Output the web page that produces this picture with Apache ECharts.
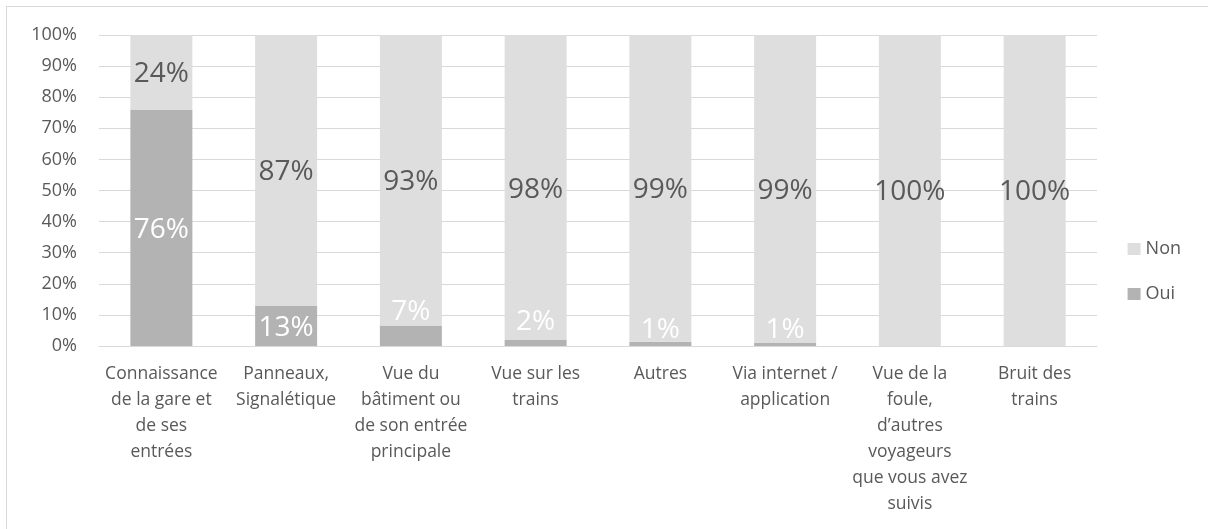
<!DOCTYPE html>
<html>
<head>
<meta charset="utf-8">
<script src="https://cdn.jsdelivr.net/npm/echarts@6/dist/echarts.min.js"></script>
<style>
html,body{margin:0;padding:0;background:#fff;}
#frame{position:absolute;left:6px;top:6px;width:1210px;height:540px;border:1px solid #d9d9d9;box-sizing:border-box;}
#chart{position:absolute;left:0;top:0;width:1208px;height:529px;}
</style>
</head>
<body>
<div id="frame"></div>
<div id="chart"></div>
<script>
const categories = [
  "Connaissance\nde la gare et\nde ses\nentrées",
  "Panneaux,\nSignalétique",
  "Vue du\nbâtiment ou\nde son entrée\nprincipale",
  "Vue sur les\ntrains",
  "Autres",
  "Via internet /\napplication",
  "Vue de la\nfoule,\nd’autres\nvoyageurs\nque vous avez\nsuivis",
  "Bruit des\ntrains"
];
const ouiValues = [75.9, 12.9, 6.6, 1.9, 1.4, 1.0, 0, 0];
const nonValues = [24.1, 87.1, 93.4, 98.1, 98.6, 99.0, 100, 100];
const yTicks = [0, 10, 20, 30, 40, 50, 60, 70, 80, 90, 100];

const FONT = "'Open Sans', 'Noto Sans', sans-serif";
const chart = echarts.init(document.getElementById('chart'), null, {renderer: 'canvas'});

// label lift for very small Oui segments (Excel pushes label above the tiny bar)
const smallLift = {2: 20, 3: 10, 4: 2, 5: 2};

const ouiData = ouiValues.map((v, i) => {
  const item = {value: v};
  if (v === 0) {
    item.label = {show: false};
  } else if (smallLift[i] !== undefined) {
    item.label = {position: 'insideBottom', distance: smallLift[i], offset: [0, 0]};
  }
  return item;
});

chart.setOption({
  animation: false,
  textStyle: {fontFamily: FONT},
  grid: {left: 99, right: 111, top: 35, bottom: 183, containLabel: false},
  legend: {
    orient: 'vertical',
    right: 22,
    top: 235,
    itemWidth: 13,
    itemHeight: 12,
    itemGap: 27,
    icon: 'rect',
    textStyle: {color: '#595959', fontSize: 18, fontFamily: FONT},
    data: ['Non', 'Oui']
  },
  xAxis: {
    type: 'category',
    data: categories,
    axisLine: {show: true, lineStyle: {color: '#d9d9d9', width: 1}},
    axisTick: {show: false},
    axisLabel: {
      color: '#595959', fontSize: 17.5, fontFamily: FONT, lineHeight: 26,
      interval: 0, margin: 15
    }
  },
  yAxis: {
    type: 'value',
    min: 0, max: 100, interval: 10,
    axisLine: {show: false},
    axisTick: {show: false},
    splitLine: {lineStyle: {color: '#d9d9d9', width: 1}},
    axisLabel: {
      color: '#595959', fontSize: 18, fontFamily: FONT, margin: 22,
      formatter: v => yTicks.includes(v) ? v + '%' : ''
    }
  },
  series: [
    {
      name: 'Oui',
      type: 'bar',
      stack: 'total',
      data: ouiData,
      barWidth: 62,
      itemStyle: {color: '#b3b3b3'},
      label: {
        show: true, position: 'inside', color: '#ffffff',
        fontSize: 28, fontFamily: FONT, offset: [0, 2],
        formatter: p => Math.round(p.value) + '%'
      }
    },
    {
      name: 'Non',
      type: 'bar',
      stack: 'total',
      data: nonValues,
      barWidth: 62,
      itemStyle: {color: '#dedede'},
      label: {
        show: true, position: 'inside', color: '#595959',
        fontSize: 28, fontFamily: FONT, offset: [0, 2],
        formatter: p => Math.round(p.value) + '%'
      }
    }
  ]
});
</script>
</body>
</html>
